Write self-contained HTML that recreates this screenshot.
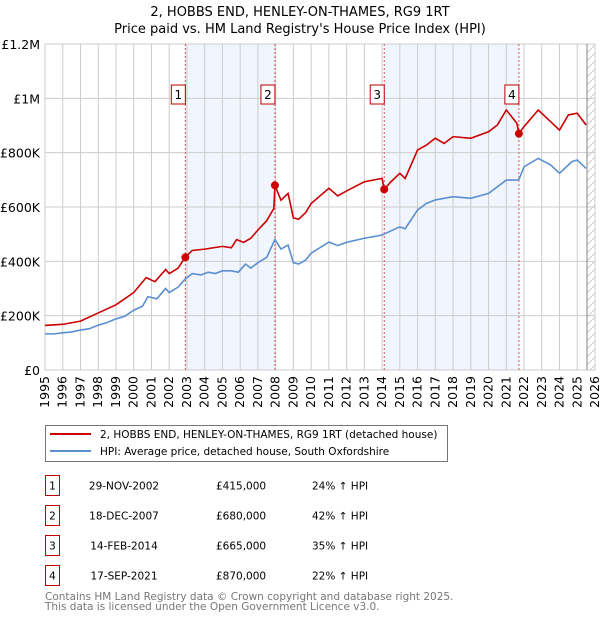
<!DOCTYPE html>
<html><head><meta charset="utf-8"><style>
body{margin:0;background:#fff;font-family:"Liberation Sans","DejaVu Sans",sans-serif;}
#wrap{position:relative;width:600px;height:620px;overflow:hidden}
svg text{font-family:"DejaVu Sans","Liberation Sans",sans-serif}
</style></head><body>
<div id="wrap">
<svg id="chart" width="600" height="620"></svg>
</div>
<script>
const hpiYears=[1995,1995.5,1996,1996.5,1997,1997.5,1998,1998.5,1999,1999.5,2000,2000.5,2000.8,2001.3,2001.8,2002,2002.5,2002.9,2003.3,2003.8,2004.2,2004.6,2005,2005.5,2005.9,2006.3,2006.6,2007,2007.5,2007.96,2008.3,2008.7,2009,2009.3,2009.7,2010,2011,2011.5,2012,2013,2014,2015,2015.3,2016,2016.5,2017,2018,2019,2020,2021,2021.7,2022,2022.8,2023.5,2024,2024.7,2025,2025.5];
const hpiValues=[133,133,137,140,147,152,165,175,188,198,220,235,270,262,300,285,305,335,355,350,360,355,365,365,360,390,375,395,415,480,445,460,395,390,405,430,471,458,470,485,497,527,520,589,613,626,638,632,650,699,699,748,779,755,724,767,773,742];
const priceYears=[1995,1996,1997,1998,1999,2000,2000.7,2001.2,2001.8,2002,2002.5,2002.9,2003.3,2004,2005,2005.5,2005.8,2006.2,2006.6,2007,2007.5,2007.9,2007.96,2008.3,2008.7,2009,2009.3,2009.7,2010,2011,2011.5,2012,2013,2014,2014.12,2014.5,2015,2015.3,2016,2016.5,2017,2017.5,2018,2019,2020,2020.5,2021,2021.6,2021.71,2022,2022.8,2023.5,2024,2024.5,2025,2025.5];
const priceValues=[164,168,180,210,240,285,340,325,370,355,375,415,440,445,455,450,480,470,485,515,550,595,680,625,650,560,555,580,613,669,641,659,693,705,665,693,724,705,810,828,853,834,859,853,877,902,957,908,870,896,957,914,883,939,945,902];
const saleYears=[2002.91,2007.96,2014.12,2021.71];
const saleValues=[415,680,665,870];
const saleLabels=["1","2","3","4"];
const yTicks=[0,200,400,600,800,1000,1200];
const yTickLabels=["£0","£200K","£400K","£600K","£800K","£1M","£1.2M"];
const xTicks=[1995,1996,1997,1998,1999,2000,2001,2002,2003,2004,2005,2006,2007,2008,2009,2010,2011,2012,2013,2014,2015,2016,2017,2018,2019,2020,2021,2022,2023,2024,2025,2026];
const saleDates=["29-NOV-2002","18-DEC-2007","14-FEB-2014","17-SEP-2021"];
const salePrices=["£415,000","£680,000","£665,000","£870,000"];
const salePct=["24% ↑ HPI","42% ↑ HPI","35% ↑ HPI","22% ↑ HPI"];

const L=45,R=595,T=44,B=370;
const X=y=>L+(y-1995)/(2026-1995)*(R-L);
const Y=v=>B-v/1200*(B-T);
const svg=document.getElementById('chart');
const NS='http://www.w3.org/2000/svg';
function mk(tag,attrs,parent){const e=document.createElementNS(NS,tag);for(const k in attrs)e.setAttribute(k,attrs[k]);(parent||svg).appendChild(e);return e;}

let t=mk('text',{x:300,y:16,'text-anchor':'middle','font-size':13});t.textContent="2, HOBBS END, HENLEY-ON-THAMES, RG9 1RT";

t=mk('text',{x:300,y:33,'text-anchor':'middle','font-size':13});t.textContent="Price paid vs. HM Land Registry's House Price Index (HPI)";


for(let i=0;i<4;i+=2){const r=mk('rect',{x:X(saleYears[i]),y:T,width:X(saleYears[i+1])-X(saleYears[i]),height:B-T,fill:'#eef3fc',opacity:0.8});
}
const defs=mk('defs',{});
const pat=mk('pattern',{id:'h',width:8,height:8,patternUnits:'userSpaceOnUse'},defs);
mk('path',{d:'M0,8 L8,0',stroke:'#ccc','stroke-width':1},pat);
const hx=X(2025.55);
let hr=mk('rect',{x:hx,y:T,width:R-hx,height:B-T,fill:'url(#h)'});

xTicks.forEach(yr=>{const l=mk('line',{x1:X(yr),x2:X(yr),y1:T,y2:B,stroke:'#ccc','stroke-width':1});

const tx=mk('text',{transform:`translate(${X(yr)+4},${B+6}) rotate(-90)`,'text-anchor':'end','font-size':12.5});tx.textContent=yr;
});
yTicks.forEach((v,i)=>{const l=mk('line',{x1:L,x2:R,y1:Y(v),y2:Y(v),stroke:'#ccc','stroke-width':1});

const tx=mk('text',{x:40,y:Y(v)+5,'text-anchor':'end','font-size':12.5});tx.textContent=yTickLabels[i];
});
let vl=mk('line',{x1:hx,x2:hx,y1:T,y2:B,stroke:'#888','stroke-width':1});

saleYears.forEach(s=>{const l=mk('line',{x1:X(s),x2:X(s),y1:T,y2:B,stroke:'#e05050','stroke-width':1,'stroke-dasharray':'2,2'});
});
let p=mk('polyline',{points:hpiYears.map((y,i)=>X(y)+','+Y(hpiValues[i])).join(' '),fill:'none',stroke:'#5b8fd0','stroke-width':1.6});

p=mk('polyline',{points:priceYears.map((y,i)=>X(y)+','+Y(priceValues[i])).join(' '),fill:'none',stroke:'#cc0000','stroke-width':1.6});

saleYears.forEach((s,i)=>{const c=mk('circle',{cx:X(s),cy:Y(saleValues[i]),r:4,fill:'#cc0000'});

const g=mk('g',{});
mk('rect',{x:X(s)-14,y:85,width:14,height:19,fill:'#fff',stroke:'#b00','stroke-width':1},g);
const tx=mk('text',{x:X(s)-7,y:99,'text-anchor':'middle','font-size':12},g);tx.textContent=saleLabels[i];});
const lg=mk('g',{});
mk('rect',{x:45.5,y:425.5,width:402,height:36,fill:'#fff',stroke:'#777'},lg);
mk('line',{x1:50,x2:91,y1:434,y2:434,stroke:'#cc0000','stroke-width':2},lg);
mk('line',{x1:50,x2:91,y1:451,y2:451,stroke:'#5b8fd0','stroke-width':2},lg);
t=mk('text',{x:100,y:438,'font-size':10.5},lg);t.textContent="2, HOBBS END, HENLEY-ON-THAMES, RG9 1RT (detached house)";

t=mk('text',{x:100,y:455,'font-size':10.5},lg);t.textContent="HPI: Average price, detached house, South Oxfordshire";

saleLabels.forEach((lab,i)=>{const y0=475.5+30*i;
const g=mk('g',{});
mk('rect',{x:45.5,y:y0,width:14,height:20,fill:'#fff',stroke:'#b00'},g);
let tx=mk('text',{x:52.5,y:y0+14,'text-anchor':'middle','font-size':10.5},g);tx.textContent=lab;
tx=mk('text',{x:124,y:y0+14,'text-anchor':'middle','font-size':10.5},g);tx.textContent=saleDates[i];
tx=mk('text',{x:216,y:y0+14,'font-size':10.5},g);tx.textContent=salePrices[i];
tx=mk('text',{x:312,y:y0+14,'font-size':10.5},g);tx.textContent=salePct[i];});
t=mk('text',{x:45,y:600,'font-size':10.5,fill:'#777'});t.textContent="Contains HM Land Registry data © Crown copyright and database right 2025.";

t=mk('text',{x:45,y:610,'font-size':10.5,fill:'#777'});t.textContent="This data is licensed under the Open Government Licence v3.0.";

</script>
</body></html>
